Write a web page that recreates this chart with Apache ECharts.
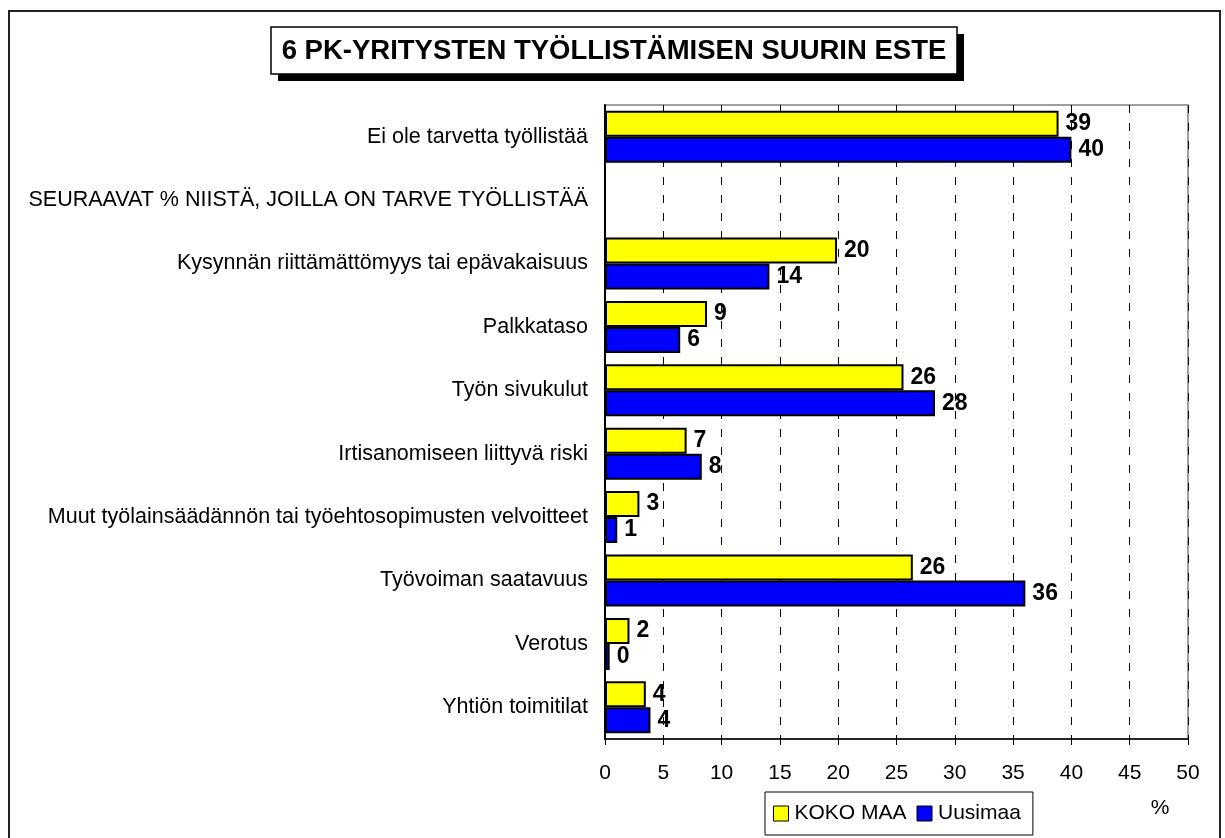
<!DOCTYPE html>
<html lang="fi">
<head>
    <meta charset="utf-8">
    <script src="https://cdn.jsdelivr.net/npm/echarts@6/dist/echarts.min.js"></script>
    <style>
        html,
        body {
            width: 100%;
            height: 100%;
            margin: 0;
            background: #fff;
            overflow: hidden;
        }

        #main {
            width: 1225px;
            height: 838px;
        }
    </style>
</head>
<body>
<div id="main"></div>
<script>
    // kategoriat ylhäältä alas
    var categories = [
        'Ei ole tarvetta työllistää',
        'SEURAAVAT % NIISTÄ, JOILLA ON TARVE TYÖLLISTÄÄ',
        'Kysynnän riittämättömyys tai epävakaisuus',
        'Palkkataso',
        'Työn sivukulut',
        'Irtisanomiseen liittyvä riski',
        'Muut työlainsäädännön tai työehtosopimusten velvoitteet',
        'Työvoiman saatavuus',
        'Verotus',
        'Yhtiön toimitilat'
    ];
    var kokoMaa = [38.9, null, 19.9, 8.75, 25.6, 7.0, 2.95, 26.4, 2.1, 3.5];
    var uusimaa = [40.0, null, 14.1, 6.45, 28.3, 8.3, 1.05, 36.05, 0.4, 3.9];
    var seriesNames = ['KOKO MAA', 'Uusimaa'];
    var xTicks = {min: 0, max: 50, interval: 5};

    var font = '"Liberation Sans", Arial, sans-serif';

    var valueLabel = {
        show: true,
        position: 'right',
        distance: 7,
        fontFamily: font,
        fontSize: 23,
        fontWeight: 'bold',
        color: '#000',
        formatter: function (p) {
            return p.value == null ? '' : Math.round(p.value);
        }
    };

    var chart = echarts.init(document.getElementById('main'));
    chart.setOption({
        animation: false,
        backgroundColor: '#fff',
        textStyle: {fontFamily: font},
        graphic: [
            {
                // kehys koko kuvan ympärillä
                type: 'rect',
                shape: {x: 9, y: 11, width: 1211, height: 900},
                style: {fill: 'none', stroke: '#222', lineWidth: 2},
                z: -1
            },
            {
                type: 'rect',
                shape: {x: 278, y: 34, width: 686, height: 47},
                style: {fill: '#000'}
            },
            {
                type: 'rect',
                shape: {x: 271, y: 27, width: 686, height: 47},
                style: {fill: '#fff', stroke: '#000', lineWidth: 1.5}
            },
            {
                type: 'text',
                x: 614,
                y: 51,
                style: {
                    text: '6 PK-YRITYSTEN TYÖLLISTÄMISEN SUURIN ESTE',
                    fontFamily: font,
                    fontSize: 27.5,
                    fontWeight: 'bold',
                    fill: '#000',
                    align: 'center',
                    verticalAlign: 'middle'
                }
            },
            {
                type: 'text',
                x: 1160,
                y: 808,
                style: {
                    text: '%',
                    fontFamily: font,
                    fontSize: 21,
                    fill: '#000',
                    align: 'center',
                    verticalAlign: 'middle'
                }
            }
        ],
        legend: {
            data: seriesNames,
            left: 765,
            top: 792,
            icon: 'rect',
            itemWidth: 15,
            itemHeight: 15,
            itemGap: 10,
            padding: [11, 12, 11, 8],
            borderColor: '#000',
            borderWidth: 1,
            itemStyle: {borderColor: '#000', borderWidth: 1},
            textStyle: {fontFamily: font, fontSize: 21, color: '#000', padding: [0, 0, 0, 1]}
        },
        grid: {
            left: 605,
            right: 37,
            top: 105,
            bottom: 99,
            show: true,
            borderColor: '#808080',
            borderWidth: 1.5
        },
        xAxis: {
            type: 'value',
            min: xTicks.min,
            max: xTicks.max,
            interval: xTicks.interval,
            axisLine: {show: true, lineStyle: {color: '#000', width: 1.5}},
            axisTick: {show: true, length: 6, lineStyle: {color: '#000'}},
            axisLabel: {fontFamily: font, fontSize: 21, color: '#000', margin: 24},
            splitLine: {show: true, lineStyle: {color: '#000', width: 1, type: [8, 10]}}
        },
        yAxis: {
            type: 'category',
            inverse: true,
            data: categories,
            axisLine: {show: true, lineStyle: {color: '#000', width: 2}},
            axisTick: {show: false},
            axisLabel: {fontFamily: font, fontSize: 21.5, color: '#000', margin: 17}
        },
        series: [
            {
                name: seriesNames[0],
                type: 'bar',
                data: kokoMaa,
                barGap: '0%',
                barCategoryGap: '18%',
                itemStyle: {color: '#FFFF00', borderColor: '#000', borderWidth: 2},
                label: valueLabel
            },
            {
                name: seriesNames[1],
                type: 'bar',
                data: uusimaa,
                barGap: '0%',
                barCategoryGap: '18%',
                itemStyle: {color: '#0000FF', borderColor: '#000', borderWidth: 2},
                label: valueLabel
            }
        ]
    });
</script>
</body>
</html>
